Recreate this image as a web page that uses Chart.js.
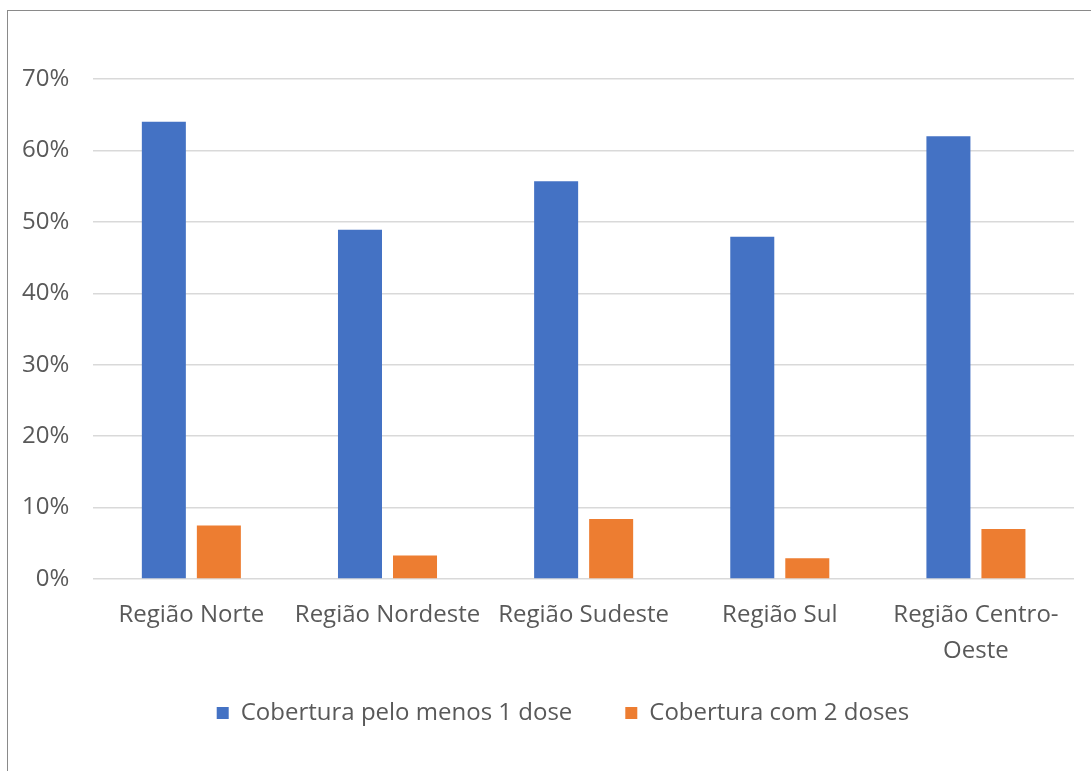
<!DOCTYPE html>
<html>
<head>
<meta charset="utf-8">
<script src="https://cdn.jsdelivr.net/npm/chart.js@4"></script>
<style>
  html, body { margin: 0; padding: 0; background: #fff; width: 1091px; height: 771px; overflow: hidden; }
  #frame { position: absolute; left: 7px; top: 10px; width: 1100px; height: 800px; border-left: 1.5px solid #8a8a8a; border-top: 1.5px solid #8a8a8a; box-sizing: border-box; pointer-events: none; }
  #wrap { position: absolute; left: 0; top: 0; width: 1091px; height: 771px; }
</style>
</head>
<body>
<div id="wrap"><canvas id="c"></canvas></div>
<div id="frame"></div>
<script>
const categories = ["Região Norte", "Região Nordeste", "Região Sudeste", "Região Sul", ["Região Centro-", "Oeste"]];
const seriesNames = ["Cobertura pelo menos 1 dose", "Cobertura com 2 doses"];
const dose1 = [64.0, 48.9, 55.7, 47.9, 62.0];
const dose2 = [7.5, 3.3, 8.4, 2.9, 7.0];
const yTicks = [0, 10, 20, 30, 40, 50, 60, 70];

const FONT = "'Open Sans', 'Noto Sans', sans-serif";
const TXT = "#595959";

const legendShift = {
  id: 'legendShift',
  afterLayout(chart) {
    const l = chart.legend;
    if (l) { l.left += 27; l.right += 27; l.top -= 31; l.bottom -= 31; }
  }
};

new Chart(document.getElementById('c'), {
  type: 'bar',
  data: {
    labels: categories,
    datasets: [
      { label: seriesNames[0], data: dose1, backgroundColor: '#4472C4', categoryPercentage: 0.561, barPercentage: 0.8 },
      { label: seriesNames[1], data: dose2, backgroundColor: '#ED7D31', categoryPercentage: 0.561, barPercentage: 0.8 }
    ]
  },
  plugins: [legendShift],
  options: {
    responsive: true,
    maintainAspectRatio: false,
    animation: false,
    layout: { padding: { top: 79, left: -2, right: 17, bottom: 5 } },
    plugins: {
      tooltip: { enabled: false },
      legend: {
        position: 'bottom',
        labels: {
          color: TXT, font: { family: FONT, size: 24 },
          boxWidth: 12, boxHeight: 12, padding: 53
        }
      }
    },
    scales: {
      x: {
        grid: { display: false },
        border: { display: false },
        ticks: { color: TXT, font: { family: FONT, size: 24, lineHeight: 1.5 }, maxRotation: 0, autoSkip: false, padding: 10 }
      },
      y: {
        min: 0, max: 70,
        afterBuildTicks: (axis) => { axis.ticks = yTicks.map(v => ({ value: v })); },
        grid: { color: '#d9d9d9', lineWidth: 1.5, drawTicks: false },
        border: { display: false },
        ticks: { color: TXT, font: { family: FONT, size: 24 }, padding: 24, callback: v => v + '%' }
      }
    }
  }
});
</script>
</body>
</html>
